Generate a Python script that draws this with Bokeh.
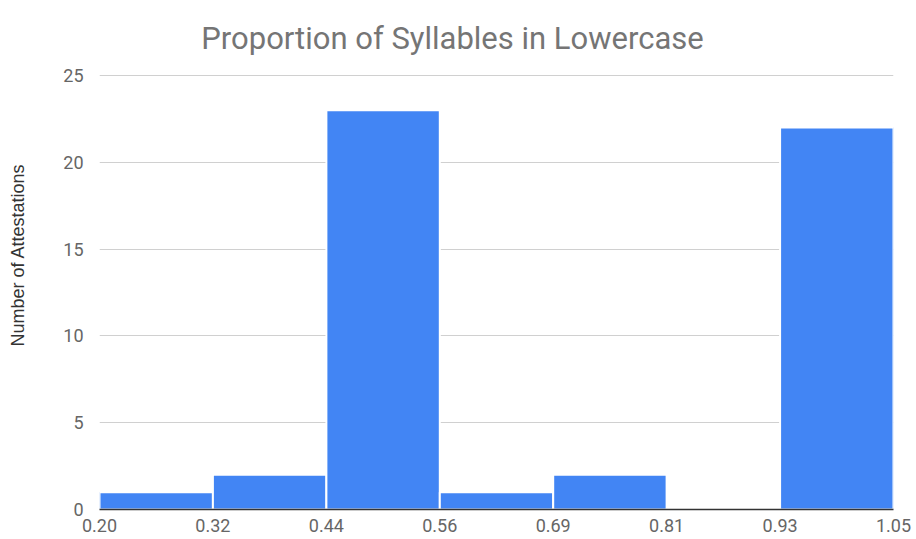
from bokeh.plotting import figure
from bokeh.models import FixedTicker, ColumnDataSource, Range1d, Label
from bokeh.embed import file_html
from bokeh.resources import INLINE

# Histogram bin edges (proportion of syllables in lowercase) and counts
bin_edges = [0.20, 0.3214, 0.4429, 0.5643, 0.6857, 0.8071, 0.9286, 1.05]
edge_labels = ["0.20", "0.32", "0.44", "0.56", "0.69", "0.81", "0.93", "1.05"]
counts = [1, 2, 23, 1, 2, 0, 22]
y_ticks = [0, 5, 10, 15, 20, 25]

src = ColumnDataSource(dict(
    left=bin_edges[:-1],
    right=bin_edges[1:],
    top=counts,
    bottom=[0] * len(counts),
))

# the frame reaches the top of the canvas; the range above 25 is headroom
# that holds the title
p = figure(width=916, height=539, output_backend="svg", toolbar_location=None,
           x_range=Range1d(bin_edges[0], bin_edges[-1]),
           y_range=Range1d(0, 29.32),
           min_border_left=99, min_border_right=23,
           min_border_top=0, min_border_bottom=30)

# chart title, placed in frame pixels (origin at the frame's bottom-left)
p.add_layout(Label(text="Proportion of Syllables in Lowercase",
                   x=353, y=471, x_units="screen", y_units="screen",
                   text_align="center", text_baseline="alphabetic",
                   text_font="Roboto", text_font_size="31px",
                   text_color="#757575"))

p.quad(left="left", right="right", top="top", bottom="bottom", source=src,
       fill_color="#4285F4", line_color="white", line_width=2)

p.outline_line_color = None
p.background_fill_color = "white"
p.border_fill_color = "white"

# grid
p.xgrid.grid_line_color = None
p.ygrid.grid_line_color = "#d0d0d0"
p.ygrid.grid_line_width = 1.2
p.ygrid.ticker = FixedTicker(ticks=y_ticks)

# x axis
p.xaxis.ticker = FixedTicker(ticks=bin_edges)
p.xaxis.major_label_overrides = {e: l for e, l in zip(bin_edges, edge_labels)}
p.xaxis.axis_line_color = "#333333"
p.xaxis.axis_line_width = 1.5
p.xaxis.major_tick_line_color = None
p.xaxis.minor_tick_line_color = None
p.xaxis.major_label_text_font = "Roboto"
p.xaxis.major_label_text_font_size = "18px"
p.xaxis.major_label_text_color = "#666666"
p.xaxis.major_label_standoff = 3

# y axis
p.yaxis.ticker = FixedTicker(ticks=y_ticks)
p.yaxis.axis_line_color = None
p.yaxis.major_tick_line_color = None
p.yaxis.minor_tick_line_color = None
p.yaxis.major_label_text_font = "Roboto"
p.yaxis.major_label_text_font_size = "18px"
p.yaxis.major_label_text_color = "#666666"
p.yaxis.major_label_standoff = 10
p.yaxis.axis_label = "Number of Attestations"
p.yaxis.axis_label_text_font = "Liberation Sans"
p.yaxis.axis_label_text_font_size = "18px"
p.yaxis.axis_label_text_font_style = "normal"
p.yaxis.axis_label_text_color = "#333333"
p.yaxis.axis_label_standoff = 32

open("out.html", "w").write(file_html(p, INLINE))
